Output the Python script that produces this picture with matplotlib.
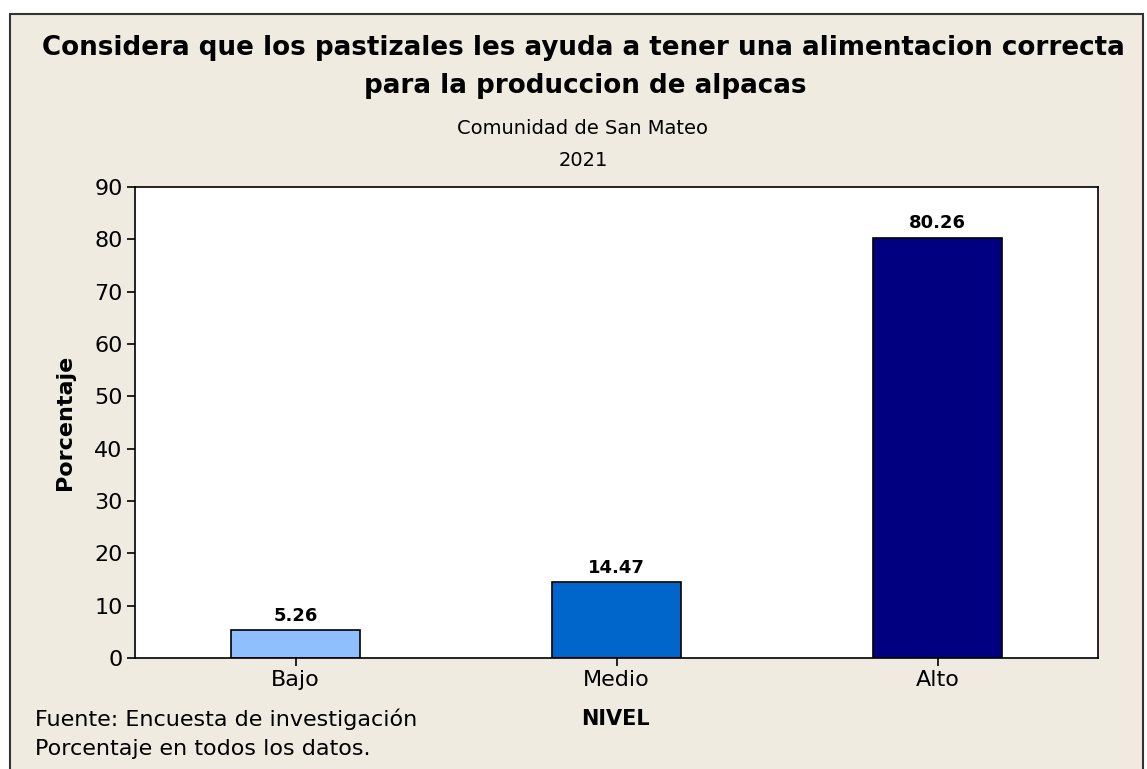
import matplotlib
matplotlib.use("Agg")
import matplotlib.pyplot as plt
from matplotlib.patches import Rectangle

categories = ["Bajo", "Medio", "Alto"]
values = [5.26, 14.47, 80.26]
colors = ["#8FBFFF", "#0066CC", "#000080"]
yticks = [0, 10, 20, 30, 40, 50, 60, 70, 80, 90]

W, H = 1147, 769
bg = "#EFEBE0"
fig = plt.figure(figsize=(W / 100, H / 100), dpi=100)
fig.patch.set_facecolor("white")
fig.patches.append(Rectangle((10 / W, -0.1), (1143 - 10) / W, 1.1 - 14 / H,
                             transform=fig.transFigure, facecolor=bg,
                             edgecolor="#333333", linewidth=1.5, zorder=-1))

ax = fig.add_axes([135 / W, 1 - 658 / H, (1098 - 135) / W, (658 - 187) / H])
ax.set_facecolor("white")
x = list(range(len(categories)))
ax.bar(x, values, width=0.4, color=colors, edgecolor="black", linewidth=1.2, zorder=2)
for xi, v in zip(x, values):
    ax.annotate(f"{v:.2f}", (xi, v), xytext=(0, 4), textcoords="offset points",
                ha="center", va="bottom", fontsize=13, fontweight="bold")
ax.set_xlim(-0.5, 2.5)
ax.set_ylim(0, 90)
ax.set_yticks(yticks)
ax.set_xticks(x)
ax.set_xticklabels(categories)
ax.tick_params(axis="both", labelsize=16, direction="out", length=6, width=1.2, pad=3)
for s in ax.spines.values():
    s.set_linewidth(1.2)
ax.set_ylabel("Porcentaje", fontsize=16, fontweight="bold", labelpad=14)

fig.text(583 / W, 1 - 48 / H,
         "Considera que los pastizales les ayuda a tener una alimentacion correcta",
         ha="center", va="center", fontsize=18.8, fontweight="bold")
fig.text(585 / W, 1 - 86 / H, "para la produccion de alpacas",
         ha="center", va="center", fontsize=18.8, fontweight="bold")
fig.text(583 / W, 1 - 128 / H, "Comunidad de San Mateo", ha="center", va="center", fontsize=14)
fig.text(583 / W, 1 - 160 / H, "2021", ha="center", va="center", fontsize=14)
fig.text(615 / W, 1 - 719 / H, "NIVEL", ha="center", va="center", fontsize=15, fontweight="bold")
fig.text(35 / W, 1 - 719 / H, "Fuente: Encuesta de investigación", ha="left", va="center", fontsize=16)
fig.text(35 / W, 1 - 749 / H, "Porcentaje en todos los datos.", ha="left", va="center", fontsize=16)

fig.savefig("out.png", dpi=100, facecolor=fig.get_facecolor())
